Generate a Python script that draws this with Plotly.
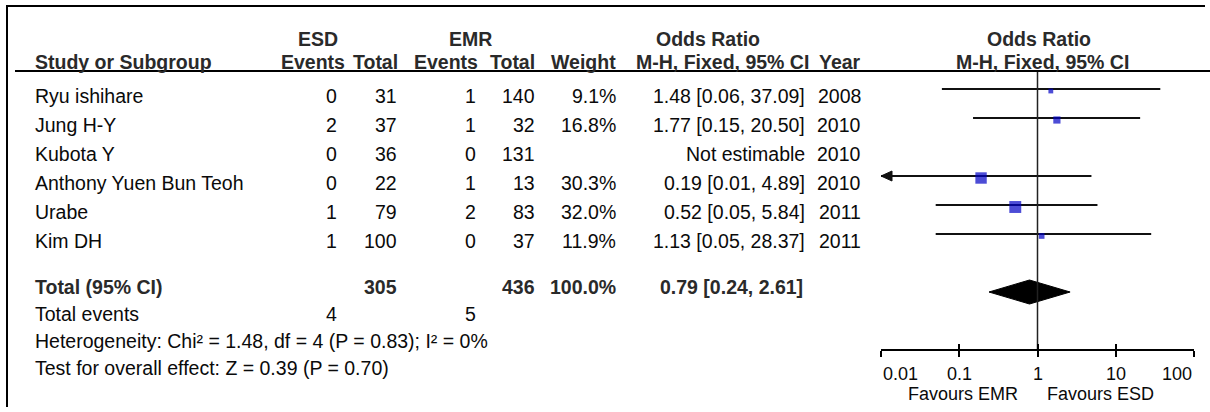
import math
import plotly.graph_objects as go

W, H = 1210, 412

# ---- study data -------------------------------------------------------
studies = ["Ryu ishihare", "Jung H-Y", "Kubota Y", "Anthony Yuen Bun Teoh", "Urabe", "Kim DH"]
esd_events = [0, 2, 0, 0, 1, 1]
esd_total = [31, 37, 36, 22, 79, 100]
emr_events = [1, 1, 0, 1, 2, 0]
emr_total = [140, 32, 131, 13, 83, 37]
weights = [9.1, 16.8, None, 30.3, 32.0, 11.9]
odds_ratio = [1.48, 1.77, None, 0.19, 0.52, 1.13]
ci_lower = [0.06, 0.15, None, 0.01, 0.05, 0.05]
ci_upper = [37.09, 20.50, None, 4.89, 5.84, 28.37]
years = [2008, 2010, 2010, 2010, 2011, 2011]

# ---- pooled result ------------------------------------------------------
pooled_or = 0.79
pooled_lower = 0.24
pooled_upper = 2.61
total_esd = 305
total_emr = 436
total_weight = 100.0
events_esd = 4
events_emr = 5
heterogeneity = "Heterogeneity: Chi² = 1.48, df = 4 (P = 0.83); I² = 0%"
overall_effect = "Test for overall effect: Z = 0.39 (P = 0.70)"

# ---- axis -------------------------------------------------------------
axis_ticks = [0.01, 0.1, 1, 10, 100]
axis_tick_labels = ["0.01", "0.1", "1", "10", "100"]
favours_labels = ["Favours EMR", "Favours ESD"]

# ---- layout constants (pixels) ---------------------------------------
FONT = "Liberation Sans, Arial, sans-serif"
TXT = "#0a0a0a"
BOLD = "#2a2a2a"
BLUE = "#0000C4"
FS = 19.5

X_NAME = 33
X_ESD_EV, X_ESD_TOT = 339, 399
X_EMR_EV, X_EMR_TOT = 478, 537
X_WEIGHT = 618
X_CI, X_YEAR = 807, 863
X_TOTAL_CI = 658

PLOT_L, PLOT_R = 881, 1194
Y_HEAD1, Y_HEAD2, Y_RULE = 39, 62, 71
ROW0, STEP = 96, 29
LINE_OFF = -7
Y_TOTAL, Y_DIAMOND = 287, 292
Y_EVENTS, Y_HET, Y_TEST = 314, 341, 368
Y_AXIS, Y_TICKLAB, Y_FAV = 350, 374, 394

def py(y):
    return 1 - y / H

annotations = []

def text(x, y, s, anchor="left", bold=False, size=FS, xref="paper"):
    annotations.append(dict(
        x=x / W if xref == "paper" else x, y=py(y), xref=xref, yref="paper",
        text=f"<b>{s}</b>" if bold else s,
        xanchor=anchor, yanchor="middle", showarrow=False,
        font=dict(family=FONT, size=size, color=BOLD if bold else TXT),
    ))

# headers
text(318, Y_HEAD1, "ESD", "center", True)
text(470, Y_HEAD1, "EMR", "center", True)
text(708, Y_HEAD1, "Odds Ratio", "center", True)
text(1039, Y_HEAD1, "Odds Ratio", "center", True)
text(X_NAME, Y_HEAD2, "Study or Subgroup", "left", True)
text(347, Y_HEAD2, "Events", "right", True)
text(400, Y_HEAD2, "Total", "right", True)
text(480, Y_HEAD2, "Events", "right", True)
text(537, Y_HEAD2, "Total", "right", True)
text(618, Y_HEAD2, "Weight", "right", True)
text(811, Y_HEAD2, "M-H, Fixed, 95% CI", "right", True)
text(863, Y_HEAD2, "Year", "right", True)
text(1042, Y_HEAD2, "M-H, Fixed, 95% CI", "center", True)

# study rows
for i, name in enumerate(studies):
    y = ROW0 + i * STEP
    text(X_NAME, y, name)
    text(X_ESD_EV, y, str(esd_events[i]), "right")
    text(X_ESD_TOT, y, str(esd_total[i]), "right")
    text(X_EMR_EV, y, str(emr_events[i]), "right")
    text(X_EMR_TOT, y, str(emr_total[i]), "right")
    if weights[i] is not None:
        text(X_WEIGHT, y, f"{weights[i]:.1f}%", "right")
    if odds_ratio[i] is not None:
        text(X_CI, y, f"{odds_ratio[i]:.2f} [{ci_lower[i]:.2f}, {ci_upper[i]:.2f}]", "right")
    else:
        text(X_CI, y, "Not estimable", "right")
    text(X_YEAR, y, str(years[i]), "right")

# totals
text(X_NAME, Y_TOTAL, "Total (95% CI)", bold=True)
text(X_ESD_TOT, Y_TOTAL, str(total_esd), "right", True)
text(X_EMR_TOT, Y_TOTAL, str(total_emr), "right", True)
text(X_WEIGHT, Y_TOTAL, f"{total_weight:.1f}%", "right", True)
text(X_TOTAL_CI, Y_TOTAL, f"{pooled_or:.2f} [{pooled_lower:.2f}, {pooled_upper:.2f}]", "left", True)
text(X_NAME, Y_EVENTS, "Total events")
text(X_ESD_EV, Y_EVENTS, str(events_esd), "right")
text(X_EMR_EV, Y_EVENTS, str(events_emr), "right")
text(X_NAME, Y_HET, heterogeneity)
text(X_NAME, Y_TEST, overall_effect)

# axis tick labels and favours captions
for j, (v, lab) in enumerate(zip(axis_ticks, axis_tick_labels)):
    anchor = "left" if j == 0 else ("right" if j == len(axis_ticks) - 1 else "center")
    text(math.log10(v), Y_TICKLAB, lab, anchor, size=18, xref="x")
text(1020, Y_FAV, favours_labels[0], "right", size=18)
text(1045, Y_FAV, favours_labels[1], "left", size=18)

# ---- forest plot traces ---------------------------------------------
x_min, x_max = axis_ticks[0], axis_ticks[-1]
decade_px = (PLOT_R - PLOT_L) / (math.log10(x_max) - math.log10(x_min))
traces = []

# line of no effect
traces.append(go.Scatter(x=[1, 1], y=[Y_RULE, Y_AXIS], mode="lines", xaxis="x2",
                         line=dict(color="#222222", width=1.5), hoverinfo="skip"))

sq_x, sq_y, sq_size = [], [], []
for i in range(len(studies)):
    if odds_ratio[i] is None:
        continue
    y = ROW0 + i * STEP + LINE_OFF
    lo = max(ci_lower[i], x_min)
    hi = min(ci_upper[i], x_max)
    traces.append(go.Scatter(x=[lo, hi], y=[y, y], mode="lines",
                             line=dict(color="#111111", width=2), hoverinfo="skip"))
    if ci_lower[i] <= x_min:
        k = 10 ** (11 / decade_px)
        traces.append(go.Scatter(x=[x_min, x_min * k, x_min * k, x_min], y=[y, y - 5, y + 5, y],
                                 mode="lines", fill="toself", fillcolor="#111111",
                                 line=dict(color="#111111", width=1), hoverinfo="skip"))
    sq_x.append(odds_ratio[i])
    sq_y.append(y + 2)
    sq_size.append(2 + 0.31 * weights[i])

traces.append(go.Scatter(x=sq_x, y=sq_y, mode="markers", cliponaxis=False,
                         marker=dict(symbol="square", size=sq_size, color=BLUE,
                                     line=dict(width=0)), hoverinfo="skip"))

# pooled diamond
traces.append(go.Scatter(x=[pooled_lower, pooled_or, pooled_upper, pooled_or, pooled_lower],
                         y=[Y_DIAMOND, Y_DIAMOND - 12, Y_DIAMOND, Y_DIAMOND + 12, Y_DIAMOND],
                         mode="lines", fill="toself", fillcolor="#000000",
                         line=dict(color="#000000", width=1), hoverinfo="skip"))

fig = go.Figure(traces)

shapes = [
    dict(type="line", xref="paper", yref="paper", x0=7 / W, x1=1205 / W, y0=py(6), y1=py(6),
         line=dict(color="#000000", width=2)),
    dict(type="line", xref="paper", yref="paper", x0=7 / W, x1=7 / W, y0=py(5), y1=py(407),
         line=dict(color="#000000", width=2)),
    dict(type="line", xref="paper", yref="paper", x0=15 / W, x1=1, y0=py(Y_RULE), y1=py(Y_RULE),
         line=dict(color="#000000", width=2)),
]

axis_common = dict(type="log", range=[math.log10(x_min), math.log10(x_max)],
                   domain=[PLOT_L / W, PLOT_R / W], anchor="free", position=py(Y_AXIS),
                   tickvals=axis_ticks, showticklabels=False, showgrid=False,
                   zeroline=False, ticklen=6, tickwidth=2, tickcolor="#000000",
                   fixedrange=True)

fig.update_layout(
    width=W, height=H, margin=dict(l=0, r=0, t=0, b=0),
    paper_bgcolor="white", plot_bgcolor="rgba(0,0,0,0)",
    showlegend=False,
    xaxis=dict(**axis_common, ticks="outside", showline=True, linecolor="#000000", linewidth=2),
    xaxis2=dict(**axis_common, ticks="inside", showline=False, overlaying="x"),
    yaxis=dict(range=[H, 0], domain=[0, 1], visible=False, fixedrange=True),
    annotations=annotations,
    shapes=shapes,
)

fig.write_html("out.html")
